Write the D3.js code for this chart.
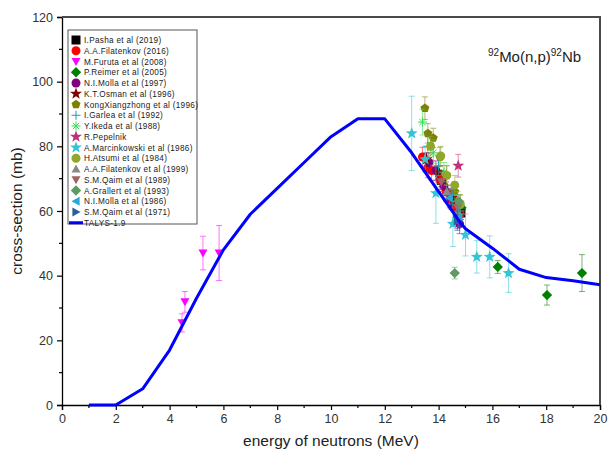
<!DOCTYPE html>
<html>
<head>
<meta charset="utf-8">
<script src="https://cdn.jsdelivr.net/npm/d3@7/dist/d3.min.js"></script>
<style>
  html, body { margin: 0; padding: 0; background: #fff; }
  svg { display: block; font-family: "Liberation Sans", Arial, sans-serif; }
</style>
</head>
<body>
<svg id="chart" width="609" height="458"></svg>
<script>
// Axis ticks
const xTicks = [0, 2, 4, 6, 8, 10, 12, 14, 16, 18, 20];
const yTicks = [0, 20, 40, 60, 80, 100, 120];

// TALYS-1.9 calculated excitation function (MeV, mb)
const talysE  = [1, 2, 3, 4, 5, 6, 7, 8, 9, 10, 11, 12, 13, 14, 14.8, 15, 16, 17, 18, 19, 20];
const talysXS = [0, 0, 5, 17, 33, 48, 59, 67, 75, 83, 88.5, 88.5, 78, 66, 56.5, 54.5, 48.5, 42, 39.4, 38.4, 37.2];

// Measured cross sections: [energy MeV, sigma mb, uncertainty mb]
const pasha2019      = [[14.1, 69.5, 2], [14.6, 62, 2], [14.83, 59.4, 2]];
const filatenkov2016 = [[13.4, 76.7, 3], [13.6, 73.3, 3], [13.74, 72.5, 3], [14.05, 69.6, 3], [14.28, 66, 3], [14.47, 63.5, 3], [14.63, 61, 3], [14.8, 59, 3]];
const furuta2008     = [[4.46, 25.4, 2.8], [4.57, 31.9, 3.2], [5.24, 47, 5.2], [5.84, 47, 8.5]];
const reimer2005     = [[14.85, 61, 2], [16.2, 42.7, 2], [18.03, 34, 3.1], [19.33, 40.8, 5.7]];
const molla1997      = [[13.64, 75, 3], [13.9, 72.5, 3], [14.2, 67.7, 3], [14.45, 64, 3], [14.7, 58.5, 4], [14.78, 56, 3]];
const osman1996      = [[13.55, 76, 2], [14.0, 72, 2], [14.5, 64, 2], [14.8, 60, 2]];
const kong1996       = [[13.49, 91.8, 3.5], [13.6, 84, 3], [13.8, 82.6, 3], [14.05, 76.7, 3], [14.3, 71, 3], [14.6, 66, 3], [14.8, 62, 3]];
const garlea1992     = [[13.6, 80, 4], [14.0, 74, 3], [14.5, 65, 3], [14.8, 60, 3]];
const ikeda1988      = [[13.4, 87.5, 4], [13.8, 78, 4], [14.2, 72, 3], [14.7, 63, 3]];
const pepelnik       = [[14.73, 74, 3.5]];
const marcinkowski1986 = [[13.0, 84, 11.5], [13.5, 76, 4], [13.9, 65.5, 9.3], [14.53, 56, 7], [15.0, 52.6, 6.5], [15.42, 45.8, 5], [15.9, 45.8, 6.5], [16.6, 40.8, 6]];
const atsumi1984     = [[13.7, 80, 3], [14.08, 77, 3], [14.3, 71, 3], [14.6, 68, 3], [14.8, 62, 3]];
const filatenkov1999 = [[14.3, 66, 2], [14.7, 60, 2]];
const qaim1989       = [[14.1, 69, 3], [14.7, 61, 3]];
const grallert1993   = [[14.6, 40.8, 1.8], [14.75, 63, 2]];
const molla1986      = [[14.4, 64, 3], [14.75, 58, 3]];
const qaim1971       = [[14.7, 57, 3]];

const series = [
  { label: "I.Pasha et al (2019)",           data: pasha2019,        color: "#000000", marker: "square" },
  { label: "A.A.Filatenkov (2016)",          data: filatenkov2016,   color: "#ff0000", marker: "circle" },
  { label: "M.Furuta et al (2008)",          data: furuta2008,       color: "#ff00ff", marker: "tdown" },
  { label: "P.Reimer et al (2005)",          data: reimer2005,       color: "#008000", marker: "diamond" },
  { label: "N.I.Molla et al (1997)",         data: molla1997,        color: "#800080", marker: "circle" },
  { label: "K.T.Osman et al (1996)",         data: osman1996,        color: "#800000", marker: "star" },
  { label: "KongXiangzhong et al (1996)",    data: kong1996,         color: "#808000", marker: "pentagon" },
  { label: "I.Garlea et al (1992)",          data: garlea1992,       color: "#1aa0a0", marker: "plus" },
  { label: "Y.Ikeda et al (1988)",           data: ikeda1988,        color: "#33dd55", marker: "asterisk" },
  { label: "R.Pepelnik",                     data: pepelnik,         color: "#c0307a", marker: "star" },
  { label: "A.Marcinkowski et al (1986)",    data: marcinkowski1986, color: "#33c4d6", marker: "star" },
  { label: "H.Atsumi et al (1984)",          data: atsumi1984,       color: "#8fa82a", marker: "circle" },
  { label: "A.A.Filatenkov et al (1999)",    data: filatenkov1999,   color: "#8a8a8a", marker: "tup" },
  { label: "S.M.Qaim et al (1989)",          data: qaim1989,         color: "#a06464", marker: "tdown" },
  { label: "A.Grallert et al (1993)",        data: grallert1993,     color: "#609a60", marker: "diamond" },
  { label: "N.I.Molla et al (1986)",         data: molla1986,        color: "#2aa6d8", marker: "tleft" },
  { label: "S.M.Qaim et al (1971)",          data: qaim1971,         color: "#2c5e9e", marker: "tright" }
];
const talysLabel = "TALYS-1.9";
const talysColor = "#0000ff";

const svg = d3.select("#chart");
const margin = { left: 62, right: 9, top: 17, bottom: 53 };
const W = 609, H = 458;
const x = d3.scaleLinear().domain([0, 20]).range([margin.left, W - margin.right]);
const y = d3.scaleLinear().domain([0, 120]).range([H - margin.bottom, margin.top]);

// Marker path generator, centred on the origin
function markerPath(type, s) {
  const h = s / 2;
  const poly = pts => "M" + pts.map(p => p.join(",")).join("L") + "Z";
  switch (type) {
    case "square": return poly([[-h, -h], [h, -h], [h, h], [-h, h]]);
    case "circle": return d3.symbol(d3.symbolCircle, Math.PI * h * h)();
    case "diamond": return poly([[0, -h * 1.15], [h * 1.15, 0], [0, h * 1.15], [-h * 1.15, 0]]);
    case "tup": return poly([[0, -h], [h, h * 0.8], [-h, h * 0.8]]);
    case "tdown": return poly([[0, h], [h, -h * 0.8], [-h, -h * 0.8]]);
    case "tleft": return poly([[-h, 0], [h * 0.8, -h], [h * 0.8, h]]);
    case "tright": return poly([[h, 0], [-h * 0.8, -h], [-h * 0.8, h]]);
    case "star": {
      const pts = [];
      for (let i = 0; i < 10; i++) {
        const r = i % 2 === 0 ? h * 1.15 : h * 0.47;
        const a = -Math.PI / 2 + i * Math.PI / 5;
        pts.push([r * Math.cos(a), r * Math.sin(a)]);
      }
      return poly(pts);
    }
    case "pentagon": {
      const pts = [];
      for (let i = 0; i < 5; i++) {
        const a = -Math.PI / 2 + i * 2 * Math.PI / 5;
        pts.push([h * 1.05 * Math.cos(a), h * 1.05 * Math.sin(a)]);
      }
      return poly(pts);
    }
    case "plus": return `M${-h},0L${h},0M0,${-h}L0,${h}`;
    case "asterisk": {
      let d = "";
      for (let i = 0; i < 4; i++) {
        const a = i * Math.PI / 4;
        d += `M${-h * Math.cos(a)},${-h * Math.sin(a)}L${h * Math.cos(a)},${h * Math.sin(a)}`;
      }
      return d;
    }
  }
}
const lineMarkers = new Set(["plus", "asterisk"]);

function drawMarker(g, type, color, s) {
  const p = g.append("path").attr("d", markerPath(type, s));
  if (lineMarkers.has(type)) p.attr("fill", "none").attr("stroke", color).attr("stroke-width", 1);
  else p.attr("fill", color).attr("stroke", "none");
  return p;
}

// Axes
const xAxis = d3.axisBottom(x).tickValues(xTicks).tickSize(5).tickPadding(4).tickFormat(d3.format("d"));
const yAxis = d3.axisLeft(y).tickValues(yTicks).tickSize(5).tickPadding(4).tickFormat(d3.format("d"));

const gx = svg.append("g").attr("transform", `translate(0,${y(0)})`).call(xAxis);
const gy = svg.append("g").attr("transform", `translate(${x(0)},0)`).call(yAxis);
[gx, gy].forEach(g => {
  g.select(".domain").attr("stroke", "#000").attr("stroke-width", 1.3);
  g.selectAll(".tick line").attr("stroke", "#000").attr("stroke-width", 1.2);
  g.selectAll(".tick text").attr("font-size", 12.5).attr("fill", "#333")
    .attr("font-family", "'Liberation Sans', Arial, sans-serif");
});

// Minor ticks
const xMinor = d3.range(1, 20, 2);
const yMinor = d3.range(10, 120, 20);
svg.append("g").selectAll("line").data(xMinor).join("line")
  .attr("x1", d => x(d)).attr("x2", d => x(d))
  .attr("y1", y(0)).attr("y2", y(0) + 3)
  .attr("stroke", "#000").attr("stroke-width", 1.2);
svg.append("g").selectAll("line").data(yMinor).join("line")
  .attr("y1", d => y(d)).attr("y2", d => y(d))
  .attr("x1", x(0)).attr("x2", x(0) - 3)
  .attr("stroke", "#000").attr("stroke-width", 1.2);

// Top and right frame
svg.append("path")
  .attr("d", `M${x(0)},${y(120)}L${x(20)},${y(120)}L${x(20)},${y(0)}`)
  .attr("fill", "none").attr("stroke", "#4a4a4a").attr("stroke-width", 2);

// Axis titles
svg.append("text")
  .attr("x", (x(0) + x(20)) / 2).attr("y", 446)
  .attr("text-anchor", "middle").attr("font-size", 15.5).attr("fill", "#222")
  .text("energy of neutrons (MeV)");
svg.append("text")
  .attr("transform", `translate(22,${(y(0) + y(120)) / 2}) rotate(-90)`)
  .attr("text-anchor", "middle").attr("font-size", 15.5).attr("fill", "#222")
  .text("cross-section (mb)");

// Reaction label
const title = svg.append("text").attr("x", 488).attr("y", 62).attr("font-size", 15).attr("fill", "#222");
title.append("tspan").attr("font-size", 10).attr("dy", -6).text("92");
title.append("tspan").attr("dy", 6).text("Mo(n,p)");
title.append("tspan").attr("font-size", 10).attr("dy", -6).text("92");
title.append("tspan").attr("dy", 6).text("Nb");

// Measurements: error bars then markers
const plot = svg.append("g");
series.forEach(s => {
  const g = plot.append("g");
  const cap = 3;
  s.data.forEach(([e, v, err]) => {
    const eb = g.append("g").attr("stroke", s.color).attr("stroke-opacity", 0.55).attr("stroke-width", 1);
    eb.append("line").attr("x1", x(e)).attr("x2", x(e)).attr("y1", y(v - err)).attr("y2", y(v + err));
    eb.append("line").attr("x1", x(e) - cap).attr("x2", x(e) + cap).attr("y1", y(v - err)).attr("y2", y(v - err));
    eb.append("line").attr("x1", x(e) - cap).attr("x2", x(e) + cap).attr("y1", y(v + err)).attr("y2", y(v + err));
  });
  s.data.forEach(([e, v]) => {
    const mg = g.append("g").attr("transform", `translate(${x(e)},${y(v)})`);
    drawMarker(mg, s.marker, s.color, s.marker === "star" ? 11 : 9);
  });
});

// TALYS-1.9 curve
svg.append("path")
  .datum(talysE.map((e, i) => [e, talysXS[i]]))
  .attr("d", d3.line().x(d => x(d[0])).y(d => y(d[1])))
  .attr("fill", "none").attr("stroke", talysColor).attr("stroke-width", 3)
  .attr("stroke-linejoin", "round");

// Legend
const lg = svg.append("g").attr("transform", "translate(68,30)");
lg.append("rect").attr("width", 129).attr("height", 194)
  .attr("fill", "#fff").attr("stroke", "#555").attr("stroke-width", 1);
const rowH = 10.75;
series.forEach((s, i) => {
  const row = lg.append("g").attr("transform", `translate(0,${10 + i * rowH})`);
  const mg = row.append("g").attr("transform", "translate(8,0)");
  drawMarker(mg, s.marker, s.color, s.marker === "star" ? 11 : 9);
  row.append("text").attr("x", 16).attr("y", 3).attr("font-size", 8.2)
    .attr("letter-spacing", 0.3).attr("fill", "#222").text(s.label);
});
const tRow = lg.append("g").attr("transform", `translate(0,${10 + series.length * rowH})`);
tRow.append("line").attr("x1", 1).attr("x2", 15).attr("stroke", talysColor).attr("stroke-width", 3);
tRow.append("text").attr("x", 16).attr("y", 3).attr("font-size", 8.2)
  .attr("letter-spacing", 0.3).attr("fill", "#222").text(talysLabel);
</script>
</body>
</html>
